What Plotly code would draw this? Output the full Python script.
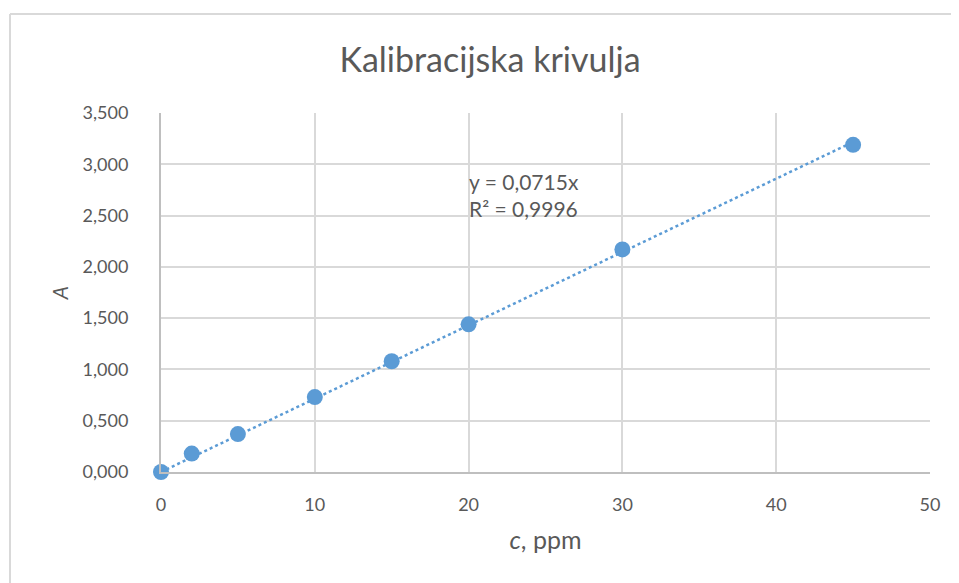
import plotly.graph_objects as go

# Data
c_ppm = [0, 2, 5, 10, 15, 20, 30, 45]
absorbance = [0.0, 0.18, 0.37, 0.73, 1.08, 1.44, 2.17, 3.19]
slope = 0.0715
r_squared = 0.9996
x_ticks = [0, 10, 20, 30, 40, 50]
y_ticks = [0, 0.5, 1.0, 1.5, 2.0, 2.5, 3.0, 3.5]

BLUE = "#5b9bd5"
TEXT = "#595959"
FONT = "Lato"

OFF = 8  # page offset of the plot div
W, H = 959 - OFF, 583 - OFF
L, R, T, B = 161 - OFF, 930 - OFF, 113 - OFF, 472 - OFF

def px_to_paper_x(px):
    return (px - OFF - L) / (R - L)

def px_to_paper_y(py):
    return (B - (py - OFF)) / (B - T)

fit_x = [0, max(c_ppm)]
fit_y = [slope * v for v in fit_x]

fig = go.Figure()
fig.add_trace(go.Scatter(
    x=fit_x, y=fit_y, mode="lines",
    line=dict(color=BLUE, width=2.5, dash="dot"),
    hoverinfo="skip", showlegend=False, cliponaxis=False,
))
fig.add_trace(go.Scatter(
    x=c_ppm, y=absorbance, mode="markers",
    marker=dict(color=BLUE, size=16),
    showlegend=False, cliponaxis=False,
))

fig.add_annotation(
    x=px_to_paper_x(467), y=px_to_paper_y(181), xref="paper", yref="paper",
    text="y = 0,0715x",
    showarrow=False, xanchor="left", yanchor="middle", align="left",
    font=dict(family=FONT, size=21, color=TEXT),
)
fig.add_annotation(
    x=px_to_paper_x(467), y=px_to_paper_y(208), xref="paper", yref="paper",
    text="R² = 0,9996",
    showarrow=False, xanchor="left", yanchor="middle", align="left",
    font=dict(family=FONT, size=21, color=TEXT),
)

# chart-area border (top and left edges visible)
fig.add_shape(type="line", xref="paper", yref="paper",
              x0=px_to_paper_x(10), y0=px_to_paper_y(600),
              x1=px_to_paper_x(10), y1=px_to_paper_y(14),
              line=dict(color="#d9d9d9", width=2))
fig.add_shape(type="line", xref="paper", yref="paper",
              x0=px_to_paper_x(10), y0=px_to_paper_y(14),
              x1=px_to_paper_x(975), y1=px_to_paper_y(14),
              line=dict(color="#d9d9d9", width=2))

fig.update_layout(
    width=W, height=H,
    margin=dict(l=L, r=W - R, t=T, b=H - B),
    paper_bgcolor="white", plot_bgcolor="white",
    separators=",.",
    title=dict(text="Kalibracijska krivulja", xref="container", x=(490 - OFF) / W, xanchor="center",
               yref="container", y=1 - (60 - OFF) / H, yanchor="middle",
               font=dict(family=FONT, size=34, color=TEXT)),
    font=dict(family=FONT, color=TEXT),
    xaxis=dict(
        range=[0, 50], tickvals=x_ticks, ticks="",
        showgrid=True, gridcolor="#d9d9d9", gridwidth=2,
        showline=True, linecolor="#bfbfbf", linewidth=2,
        zeroline=False, ticklabelstandoff=15,
        tickfont=dict(family=FONT, size=18, color=TEXT),
        title=dict(text="<i>c</i>, ppm", font=dict(family=FONT, size=25, color=TEXT), standoff=18),
    ),
    yaxis=dict(
        range=[0, 3.5], tickvals=y_ticks, tickformat=".3f", ticks="",
        showgrid=True, gridcolor="#d9d9d9", gridwidth=2,
        showline=True, linecolor="#bfbfbf", linewidth=2,
        zeroline=False, ticklabelstandoff=27,
        tickfont=dict(family=FONT, size=18, color=TEXT),
        title=dict(text="<i>A</i>", font=dict(family=FONT, size=21, color=TEXT), standoff=8),
    ),
)

fig.write_html(
    "out.html",
    config={"displayModeBar": False},
    post_script="document.documentElement.style.overflow='hidden';document.body.style.overflow='hidden';",
)
